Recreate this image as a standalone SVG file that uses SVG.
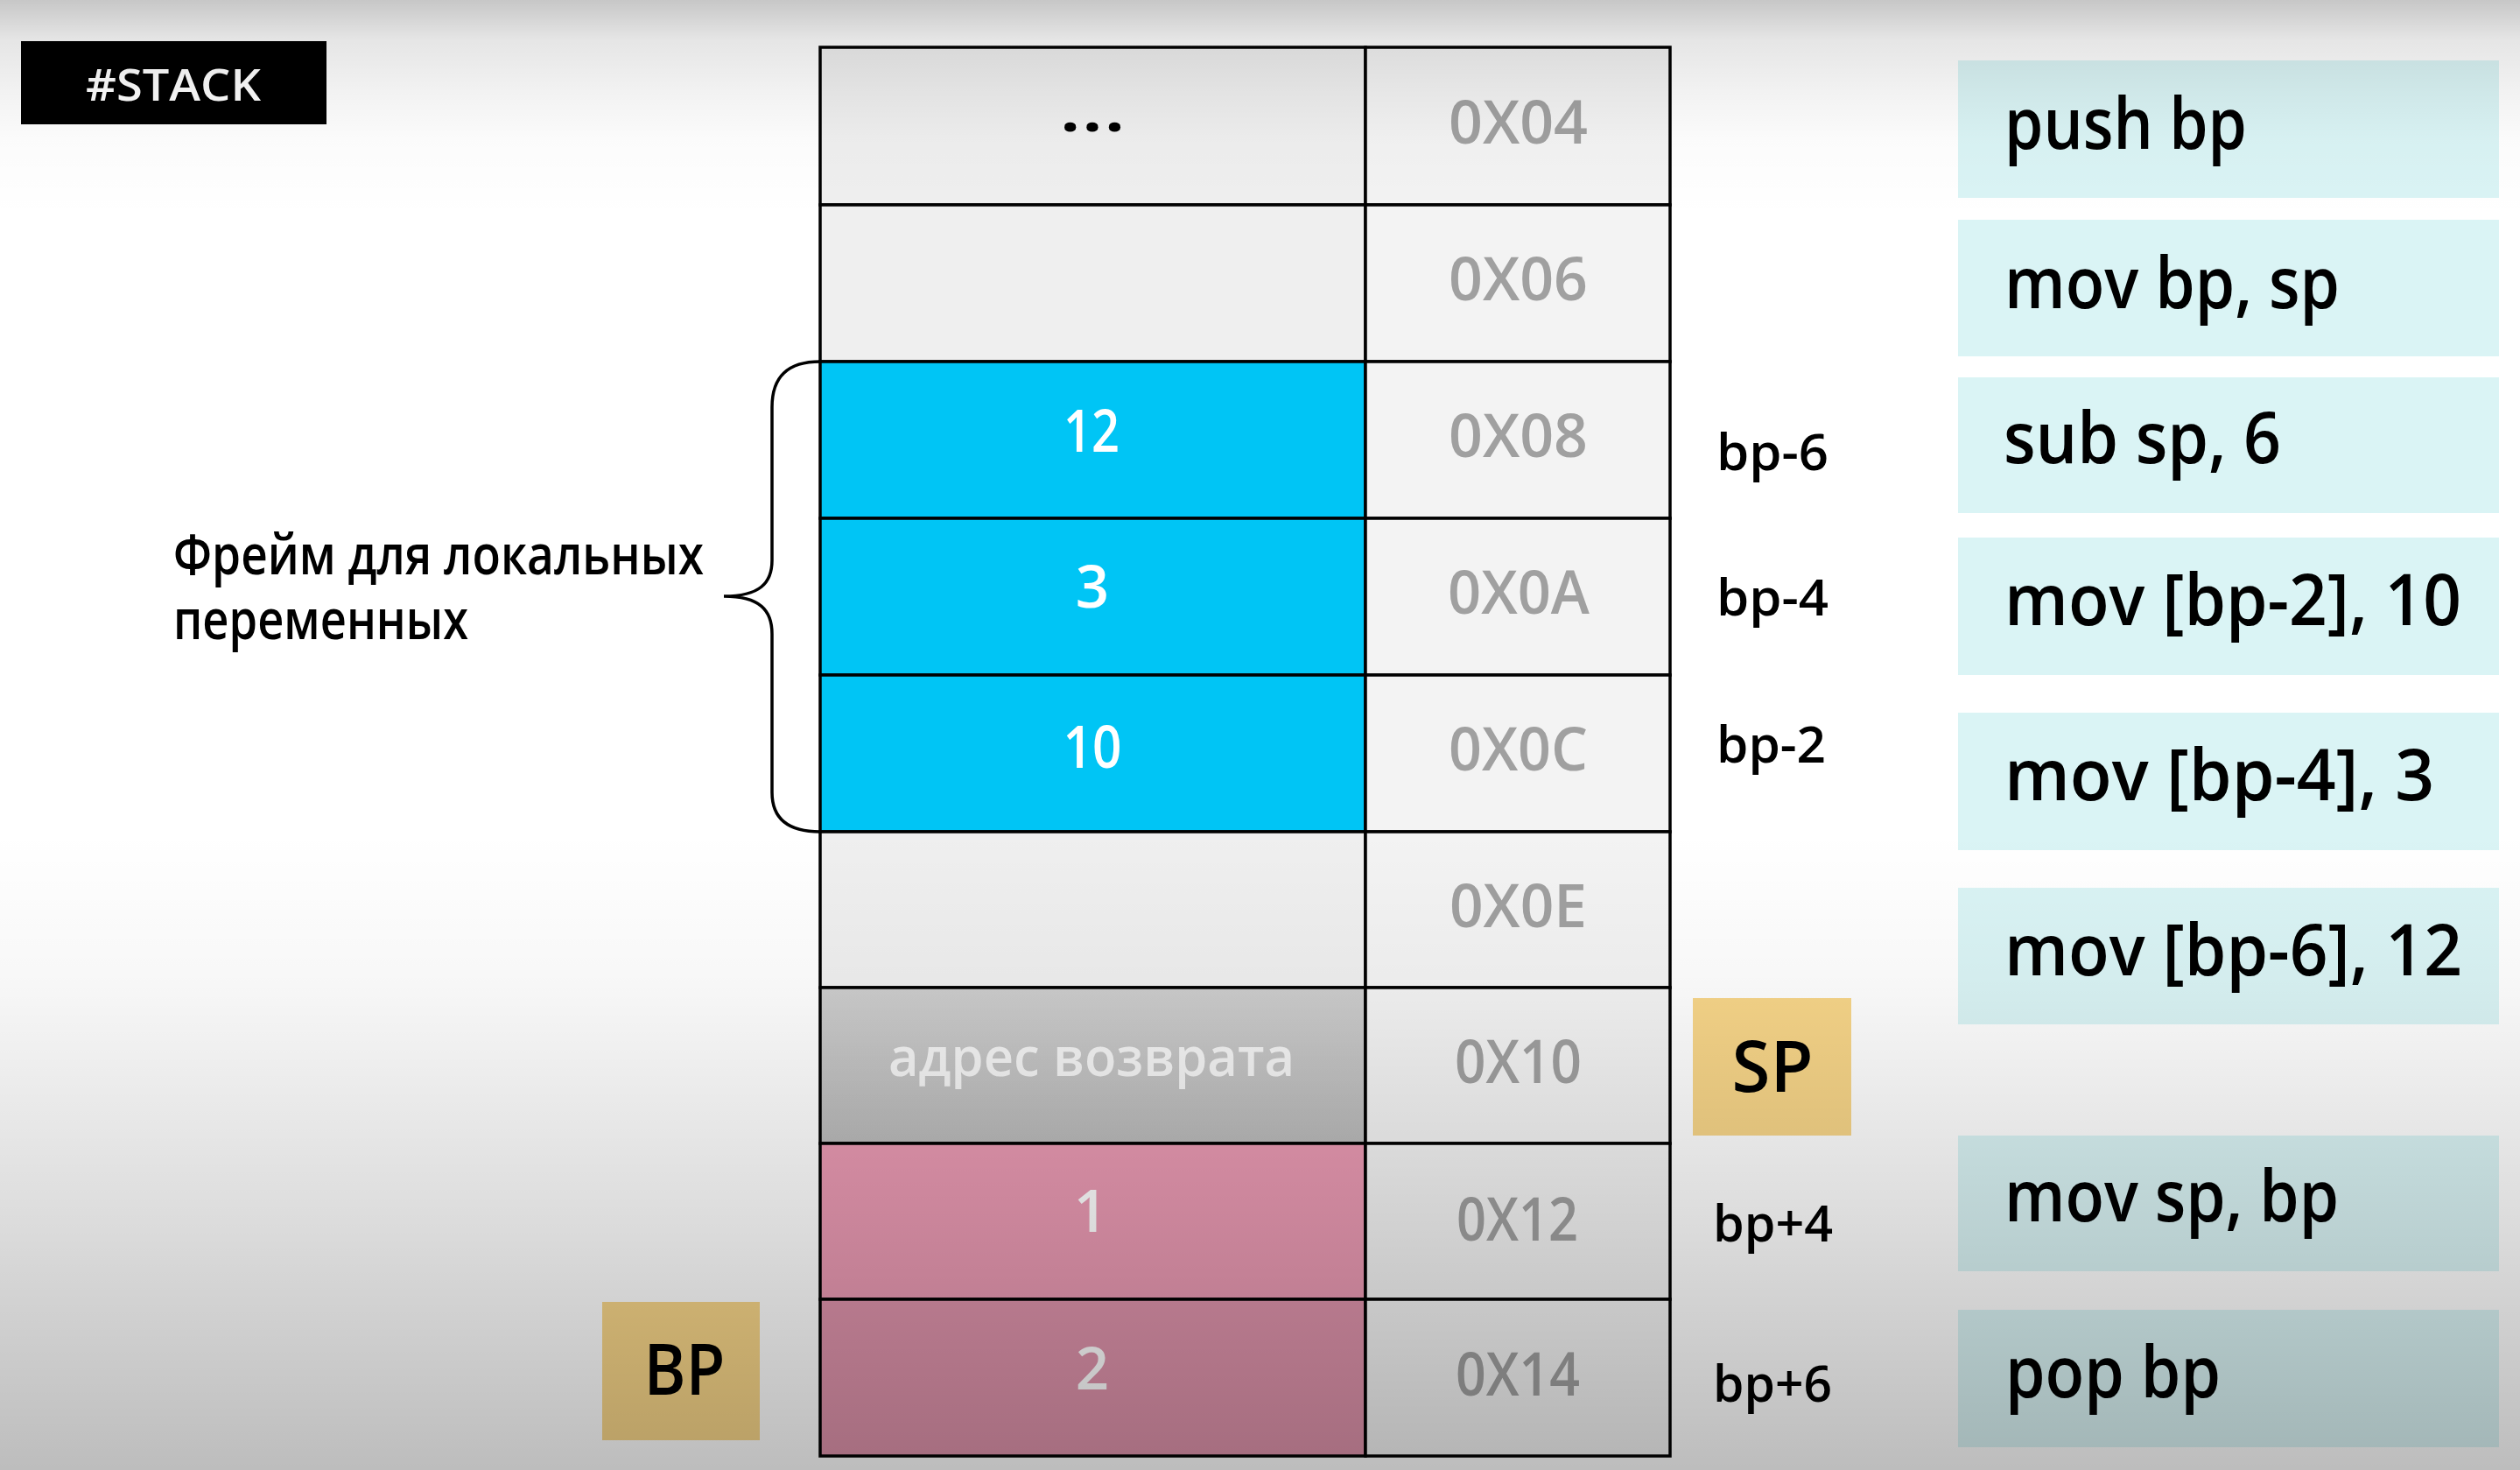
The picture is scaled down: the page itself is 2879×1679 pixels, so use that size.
<svg xmlns="http://www.w3.org/2000/svg" width="2879" height="1679" viewBox="0 0 2879 1679">
<defs>
<linearGradient id="vig" gradientUnits="userSpaceOnUse" x1="0" y1="0" x2="0" y2="1679">
<stop offset="0" stop-color="#000" stop-opacity="0.22"/>
<stop offset="0.0274" stop-color="#000" stop-opacity="0.10"/>
<stop offset="0.0637" stop-color="#000" stop-opacity="0.05"/>
<stop offset="0.0953" stop-color="#000" stop-opacity="0.015"/>
<stop offset="0.149" stop-color="#000" stop-opacity="0"/>
<stop offset="0.566" stop-color="#000" stop-opacity="0"/>
<stop offset="0.667" stop-color="#000" stop-opacity="0.03"/>
<stop offset="0.774" stop-color="#000" stop-opacity="0.10"/>
<stop offset="0.834" stop-color="#000" stop-opacity="0.14"/>
<stop offset="1" stop-color="#000" stop-opacity="0.26"/>
</linearGradient>
<linearGradient id="retg" x1="0" y1="0" x2="0" y2="1">
<stop offset="0" stop-color="#cdcdcd"/>
<stop offset="1" stop-color="#bbbbbb"/>
</linearGradient>
<style>
text{font-family:"Open Sans","Liberation Sans",sans-serif;font-weight:600;}
.cell{stroke:#000;stroke-width:3.5;}
.light{fill:#efefef;}
.addrc{fill:#f3f3f3;}
.blue{fill:#00c5f5;}
.pink1{fill:#ea9ab3;}
.pink2{fill:#de93ab;}
.addr{font-size:68px;fill:#a0a0a0;}
.val{font-size:67px;fill:#ffffff;}
.lbl{font-size:58px;fill:#000;}
.ins{fill:#daf4f5;}
.inst{font-size:82px;fill:#000;}
.ptr{fill:#f8d689;}
.ptrt{font-size:82px;fill:#000;}
</style>
</defs>
<rect x="0" y="0" width="2879" height="1679" fill="#ffffff"/>

<g id="tag">
<rect x="24" y="47" width="349" height="95" fill="#000"/>
<text x="98" y="115" font-size="50" fill="#fff" textLength="200" lengthAdjust="spacingAndGlyphs">#STACK</text>
</g>

<g id="stack">
<g id="row-0x04">
<rect class="cell light" x="937" y="54" width="623" height="180"/>
<rect class="cell addrc" x="1560" y="54" width="348" height="180"/>
<text x="1248" y="150" font-size="72" font-weight="bold" text-anchor="middle" textLength="76" lengthAdjust="spacingAndGlyphs">...</text>
<text class="addr" x="1655" y="164" textLength="159" lengthAdjust="spacingAndGlyphs">0X04</text>
</g>
<g id="row-0x06">
<rect class="cell light" x="937" y="234" width="623" height="179"/>
<rect class="cell addrc" x="1560" y="234" width="348" height="179"/>
<text class="addr" x="1655" y="343" textLength="159" lengthAdjust="spacingAndGlyphs">0X06</text>
</g>
<g id="row-0x08">
<rect class="cell blue" x="937" y="413" width="623" height="179"/>
<rect class="cell addrc" x="1560" y="413" width="348" height="179"/>
<text class="val" x="1247" y="516" text-anchor="middle" textLength="64" lengthAdjust="spacingAndGlyphs">12</text>
<text class="addr" x="1655" y="522" textLength="159" lengthAdjust="spacingAndGlyphs">0X08</text>
</g>
<g id="row-0x0a">
<rect class="cell blue" x="937" y="592" width="623" height="179"/>
<rect class="cell addrc" x="1560" y="592" width="348" height="179"/>
<text class="val" x="1248" y="694" text-anchor="middle">3</text>
<text class="addr" x="1654" y="701" textLength="162" lengthAdjust="spacingAndGlyphs">0X0A</text>
</g>
<g id="row-0x0c">
<rect class="cell blue" x="937" y="771" width="623" height="179"/>
<rect class="cell addrc" x="1560" y="771" width="348" height="179"/>
<text class="val" x="1248" y="877" text-anchor="middle" textLength="67" lengthAdjust="spacingAndGlyphs">10</text>
<text class="addr" x="1655" y="880" textLength="159" lengthAdjust="spacingAndGlyphs">0X0C</text>
</g>
<g id="row-0x0e">
<rect class="cell light" x="937" y="950" width="623" height="178"/>
<rect class="cell addrc" x="1560" y="950" width="348" height="178"/>
<text class="addr" x="1656" y="1059" textLength="157" lengthAdjust="spacingAndGlyphs">0X0E</text>
</g>
<g id="row-0x10">
<rect class="cell" x="937" y="1128" width="623" height="178" fill="url(#retg)"/>
<rect class="cell addrc" x="1560" y="1128" width="348" height="178"/>
<text x="1247" y="1229" font-size="62" fill="#f4f4f4" text-anchor="middle" textLength="464" lengthAdjust="spacingAndGlyphs">адрес возврата</text>
<text class="addr" x="1662" y="1237" textLength="145" lengthAdjust="spacingAndGlyphs">0X10</text>
</g>
<g id="row-0x12">
<rect class="cell pink1" x="937" y="1306" width="623" height="178"/>
<rect class="cell addrc" x="1560" y="1306" width="348" height="178"/>
<text class="val" x="1246" y="1407" text-anchor="middle">1</text>
<text class="addr" x="1664" y="1417" textLength="139" lengthAdjust="spacingAndGlyphs">0X12</text>
</g>
<g id="row-0x14">
<rect class="cell pink2" x="937" y="1484" width="623" height="179"/>
<rect class="cell addrc" x="1560" y="1484" width="348" height="179"/>
<text class="val" x="1248" y="1587" text-anchor="middle">2</text>
<text class="addr" x="1663" y="1594" textLength="142" lengthAdjust="spacingAndGlyphs">0X14</text>
</g>
</g>

<g id="connectors">
<path d="M 937 413 C 900 413 882 430 882 465 L 882 640 C 882 666 868 681 827 681 C 868 681 882 697 882 724 L 882 905 C 882 935 900 950 937 950" fill="none" stroke="#000" stroke-width="3.5"/>
</g>

<g id="frame-label">
<text font-size="64" fill="#000" font-weight="500"><tspan x="198" y="656" textLength="606" lengthAdjust="spacingAndGlyphs">Фрейм для локальных</tspan><tspan x="198" y="730" textLength="337" lengthAdjust="spacingAndGlyphs">переменных</tspan></text>
</g>

<g id="offsets">
<text class="lbl" x="1961" y="537" textLength="128" lengthAdjust="spacingAndGlyphs">bp-6</text>
<text class="lbl" x="1961" y="703" textLength="128" lengthAdjust="spacingAndGlyphs">bp-4</text>
<text class="lbl" x="1961" y="871" textLength="125" lengthAdjust="spacingAndGlyphs">bp-2</text>
<text class="lbl" x="1957" y="1418" textLength="137" lengthAdjust="spacingAndGlyphs">bp+4</text>
<text class="lbl" x="1957" y="1601" textLength="136" lengthAdjust="spacingAndGlyphs">bp+6</text>
</g>

<g id="sp">
<rect class="ptr" x="1934" y="1140" width="181" height="157"/>
<text class="ptrt" x="2025" y="1247" text-anchor="middle" textLength="93" lengthAdjust="spacingAndGlyphs">SP</text>
</g>
<g id="bp">
<rect class="ptr" x="688" y="1487" width="180" height="158"/>
<text class="ptrt" x="782" y="1593" text-anchor="middle" textLength="93" lengthAdjust="spacingAndGlyphs">BP</text>
</g>

<g id="instructions">
<g id="ins1"><rect class="ins" x="2237" y="69" width="618" height="157"/><text class="inst" x="2290" y="170" textLength="277" lengthAdjust="spacingAndGlyphs">push bp</text></g>
<g id="ins2"><rect class="ins" x="2237" y="251" width="618" height="156"/><text class="inst" x="2290" y="352" textLength="383" lengthAdjust="spacingAndGlyphs">mov bp, sp</text></g>
<g id="ins3"><rect class="ins" x="2237" y="431" width="618" height="155"/><text class="inst" x="2289" y="529" textLength="317" lengthAdjust="spacingAndGlyphs">sub sp, 6</text></g>
<g id="ins4"><rect class="ins" x="2237" y="614" width="618" height="157"/><text class="inst" x="2290" y="714" textLength="522" lengthAdjust="spacingAndGlyphs">mov [bp-2], 10</text></g>
<g id="ins5"><rect class="ins" x="2237" y="814" width="618" height="157"/><text class="inst" x="2290" y="914" textLength="491" lengthAdjust="spacingAndGlyphs">mov [bp-4], 3</text></g>
<g id="ins6"><rect class="ins" x="2237" y="1014" width="618" height="156"/><text class="inst" x="2290" y="1114" textLength="523" lengthAdjust="spacingAndGlyphs">mov [bp-6], 12</text></g>
<g id="ins7"><rect class="ins" x="2237" y="1297" width="618" height="155"/><text class="inst" x="2290" y="1395" textLength="382" lengthAdjust="spacingAndGlyphs">mov sp, bp</text></g>
<g id="ins8"><rect class="ins" x="2237" y="1496" width="618" height="157"/><text class="inst" x="2291" y="1596" textLength="246" lengthAdjust="spacingAndGlyphs">pop bp</text></g>
</g>

<rect x="0" y="0" width="2879" height="1679" fill="url(#vig)" pointer-events="none"/>
</svg>
